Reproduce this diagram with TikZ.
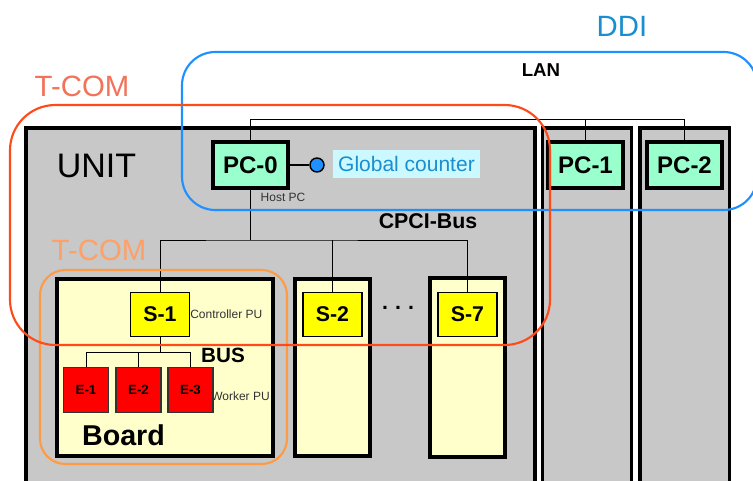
\documentclass[tikz,border=0pt]{standalone}
\usepackage{fontspec}
\setmainfont{Liberation Sans}
\definecolor{rackgray}{HTML}{C8C8C8}
\definecolor{pcgreen}{HTML}{99FFCC}
\definecolor{boardyellow}{HTML}{FFFFCC}
\definecolor{chipyellow}{HTML}{FFFF00}
\definecolor{workerred}{HTML}{FF0000}
\definecolor{ddiblue}{HTML}{1E90FF}
\definecolor{dditext}{HTML}{1A8ECF}
\definecolor{counterbg}{HTML}{CCF8FF}
\definecolor{tcomred}{HTML}{FF4A1A}
\definecolor{tcomredtext}{HTML}{F2735A}
\definecolor{tcomorange}{HTML}{FF9A45}
\definecolor{tcomorangetext}{HTML}{FFA066}
\newcommand{\fs}[1]{\fontsize{#1}{1.2\dimexpr#1\relax}\selectfont}
\begin{document}
\begin{tikzpicture}[x=0.75pt,y=-0.75pt,
  rack/.style={draw=black,line width=2.6pt,fill=rackgray},
  slot/.style={draw=black,line width=3pt,fill=boardyellow},
  pcbox/.style={draw=black,line width=2.6pt,fill=pcgreen,minimum width=56.25pt,
    minimum height=34.5pt,inner sep=0pt,font=\fs{18pt}\bfseries},
  ctrl/.style={draw=black,line width=0.9pt,fill=chipyellow,minimum width=44.25pt,
    minimum height=33pt,inner sep=0pt,font=\fs{16pt}\bfseries},
  worker/.style={draw=black!80,line width=0.9pt,fill=workerred,minimum width=33.75pt,
    minimum height=33.75pt,inner sep=0pt,font=\fs{10pt}\bfseries},
  wire/.style={draw=black,line width=0.75pt},
  note/.style={font=\fs{9pt},text=black!80,inner sep=0pt},
  group/.style={line width=1.6pt},
  grouplabel/.style={font=\fs{22pt},inner sep=0pt},
  buslabel/.style={font=\fs{16pt}\bfseries,inner sep=0pt}]
\clip (0,0) rectangle (753,481);
\fill[white] (0,0) rectangle (753,481);

% racks
\draw[rack] (26,128) rectangle (535,500);
\draw[rack] (542.5,128) rectangle (631.5,500);
\draw[rack] (640,128) rectangle (729.5,500);

% boards in the unit
\draw[slot] (57,279) rectangle (273,456);
\draw[slot] (295,279) rectangle (370,456);
\draw[slot] (430,278) rectangle (505,457);

% host and remote PCs
\node[pcbox] (pc0) at (250.5,165) {PC-0};
\node[pcbox] (pc1) at (585.5,165) {PC-1};
\node[pcbox] (pc2) at (684.5,165) {PC-2};

% LAN
\coordinate (lanL) at (250.5,120);
\coordinate (lanR) at (684.5,120);
\draw[wire] (pc0.north) -- (lanL) -- (lanR) -- (pc2.north);
\draw[wire] (pc1.north) -- (pc1.north |- lanL);
\node[font=\fs{14pt}\bfseries,inner sep=0pt] (lan) at (541,70) {LAN};

% global counter
\node[circle,draw=black,line width=1.1pt,fill=ddiblue,minimum size=10.5pt,inner sep=0pt] (gc) at (317,165) {};
\draw[line width=1.5pt] (pc0.east) -- (gc.west);
\node[fill=counterbg,text=dditext,font=\fs{15.75pt},minimum width=110pt,minimum height=21pt,inner sep=0pt] (gctext) at (406.5,164) {Global counter};
\node[note] (host) at (283,197) {Host PC};

% controller PUs
\node[ctrl] (s1) at (160,314.5) {S-1};
\node[ctrl] (s2) at (332.5,314.5) {S-2};
\node[ctrl] (s7) at (467.5,314.5) {S-7};
\node[font=\fs{16pt}\bfseries,inner sep=0pt] (dots) at (398,308) {.\,\,.\,\,.};

% CPCI bus
\coordinate (cpci) at (250.5,240);
\draw[wire] (pc0.south) -- (cpci);
\draw[wire] (s1.north) |- (cpci) -| (s7.north);
\draw[wire] (s2.north) -- (s2.north |- cpci);
\node[buslabel] (cpcilabel) at (428,221) {CPCI-Bus};

% worker PUs
\node[worker] (e1) at (86,390) {E-1};
\node[worker] (e2) at (138.5,390) {E-2};
\node[worker] (e3) at (190.5,390) {E-3};
\coordinate (busy) at (0,352);
\draw[wire] (s1.south) -- (s1.south |- busy);
\draw[wire] (e1.north) -- (e1.north |- busy) -- (e3.north |- busy) -- (e3.north);
\draw[wire] (e2.north) -- (e2.north |- busy);
\node[font=\fs{15.5pt}\bfseries,inner sep=0pt] (buslbl) at (223,355) {BUS};
\node[note,anchor=west] (ctrlpu) at (190,314) {Controller PU};
\node[note,anchor=west] (workpu) at (211,396) {Worker PU};
\node[font=\fs{21.5pt}\bfseries,inner sep=0pt] (board) at (123.5,435) {Board};
\node[font=\fs{25.5pt},inner sep=0pt] (unit) at (96.5,166) {UNIT};

% grouping outlines
\draw[group,draw=tcomorange,rounded corners=19pt] (40,270) rectangle (287,464);
\node[grouplabel,text=tcomorangetext] (tcom2) at (99,250) {T-COM};
\draw[group,draw=ddiblue,rounded corners=25pt] (182,52) rectangle (757,210);
\node[grouplabel,text=dditext] (ddi) at (622,26) {DDI};
\draw[group,draw=tcomred,rounded corners=34pt] (10,105) rectangle (550,345);
\node[grouplabel,text=tcomredtext] (tcom1) at (82,86) {T-COM};
\end{tikzpicture}
\end{document}
